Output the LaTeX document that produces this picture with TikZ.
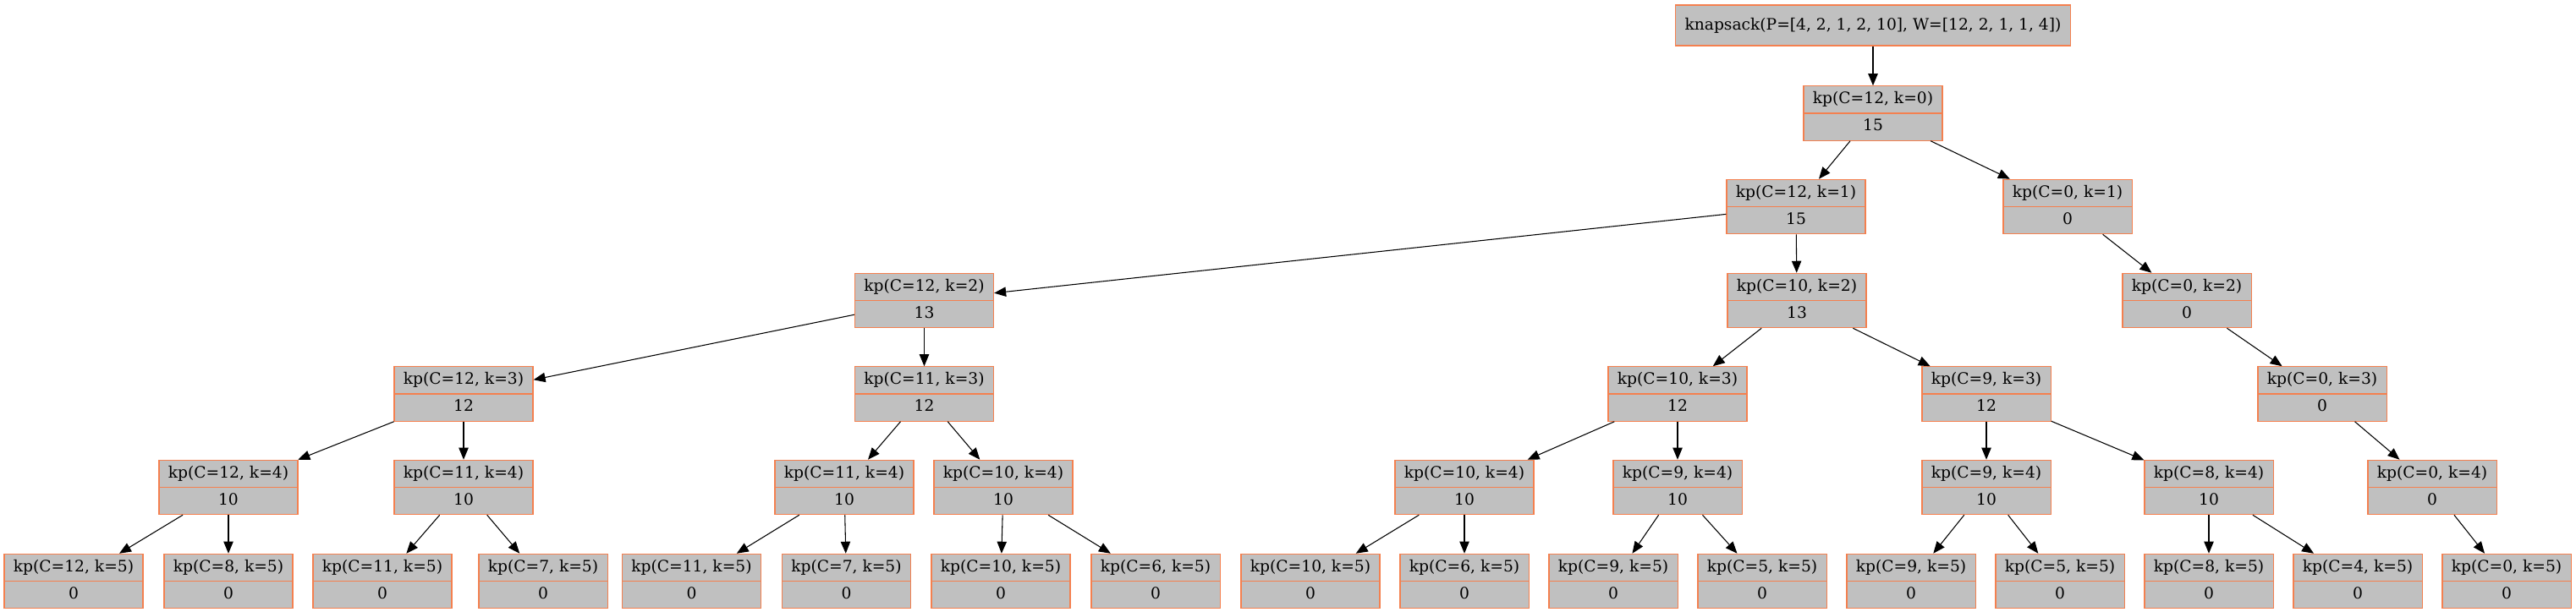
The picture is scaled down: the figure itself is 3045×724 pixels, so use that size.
\documentclass[tikz,border=0pt]{standalone}
\usepackage{fontspec}
\setmainfont{DejaVu Serif}
\usetikzlibrary{shapes.multipart,arrows.meta}
\definecolor{nodefill}{HTML}{C0C0C0}
\definecolor{nodeborder}{HTML}{F4804F}
\newcommand{\kpstrut}{\rule[-3.4pt]{0pt}{14pt}}
\tikzset{
  kpbox/.style={rectangle split, rectangle split parts=2, draw=nodeborder, fill=nodefill,
    line width=0.9pt, inner xsep=8.2pt, inner ysep=4.6pt,
    font=\fontsize{14}{16}\selectfont, align=center},
  topbox/.style={rectangle, draw=nodeborder, fill=nodefill, line width=0.9pt,
    inner xsep=8.2pt, minimum height=36pt, font=\fontsize{14}{16}\selectfont},
  edge/.style={draw=black, line width=0.8pt, -{Triangle[length=10.5pt,width=8.5pt]}}
}
\newcommand{\kpn}[5]{\node[kpbox] (#1) at (#2,#3) {\kpstrut kp(C=#4)\nodepart{two}\kpstrut #5};}
\begin{document}
\begin{tikzpicture}[x=0.75pt,y=-0.75pt]
\useasboundingbox (0,0) rectangle (3045,724);
\node[topbox] (root) at (2214,30) {knapsack(P=[4, 2, 1, 2, 10], W=[12, 2, 1, 1, 4])};
\kpn{a}{2214}{134}{12, k=0}{15}
\kpn{b1}{2123}{244.5}{12, k=1}{15}
\kpn{b2}{2444}{244.5}{0, k=1}{0}
\kpn{c1}{1092.5}{355.5}{12, k=2}{13}
\kpn{c2}{2124}{355.5}{10, k=2}{13}
\kpn{c3}{2585}{355.5}{0, k=2}{0}
\kpn{d1}{548}{466}{12, k=3}{12}
\kpn{d2}{1092.5}{466}{11, k=3}{12}
\kpn{d3}{1983}{466}{10, k=3}{12}
\kpn{d4}{2348}{466}{9, k=3}{12}
\kpn{d5}{2745}{466}{0, k=3}{0}
\kpn{e1}{270}{576.5}{12, k=4}{10}
\kpn{e2}{548}{576.5}{11, k=4}{10}
\kpn{e3}{998}{576.5}{11, k=4}{10}
\kpn{e4}{1186}{576.5}{10, k=4}{10}
\kpn{e5}{1731}{576.5}{10, k=4}{10}
\kpn{e6}{1983}{576.5}{9, k=4}{10}
\kpn{e7}{2348}{576.5}{9, k=4}{10}
\kpn{e8}{2611}{576.5}{8, k=4}{10}
\kpn{e9}{2875}{576.5}{0, k=4}{0}
\kpn{f1}{87}{687.5}{12, k=5}{0}
\kpn{f2}{270}{687.5}{8, k=5}{0}
\kpn{f3}{452}{687.5}{11, k=5}{0}
\kpn{f4}{642}{687.5}{7, k=5}{0}
\kpn{f5}{817.5}{687.5}{11, k=5}{0}
\kpn{f6}{1000.5}{687.5}{7, k=5}{0}
\kpn{f7}{1183}{687.5}{10, k=5}{0}
\kpn{f8}{1366}{687.5}{6, k=5}{0}
\kpn{f9}{1549}{687.5}{10, k=5}{0}
\kpn{f10}{1731}{687.5}{6, k=5}{0}
\kpn{f11}{1907}{687.5}{9, k=5}{0}
\kpn{f12}{2083}{687.5}{5, k=5}{0}
\kpn{f13}{2259}{687.5}{9, k=5}{0}
\kpn{f14}{2435}{687.5}{5, k=5}{0}
\kpn{f15}{2611}{687.5}{8, k=5}{0}
\kpn{f16}{2787}{687.5}{4, k=5}{0}
\kpn{f17}{2963}{687.5}{0, k=5}{0}
\foreach \s/\t in {root/a, a/b1, a/b2, b1/c1, b1/c2, b2/c3,
  c1/d1, c1/d2, c2/d3, c2/d4, c3/d5,
  d1/e1, d1/e2, d2/e3, d2/e4, d3/e5, d3/e6, d4/e7, d4/e8, d5/e9,
  e1/f1, e1/f2, e2/f3, e2/f4, e3/f5, e3/f6, e4/f7, e4/f8,
  e5/f9, e5/f10, e6/f11, e6/f12, e7/f13, e7/f14, e8/f15, e8/f16, e9/f17}
  \draw[edge] (\s) -- (\t);
\end{tikzpicture}
\end{document}
